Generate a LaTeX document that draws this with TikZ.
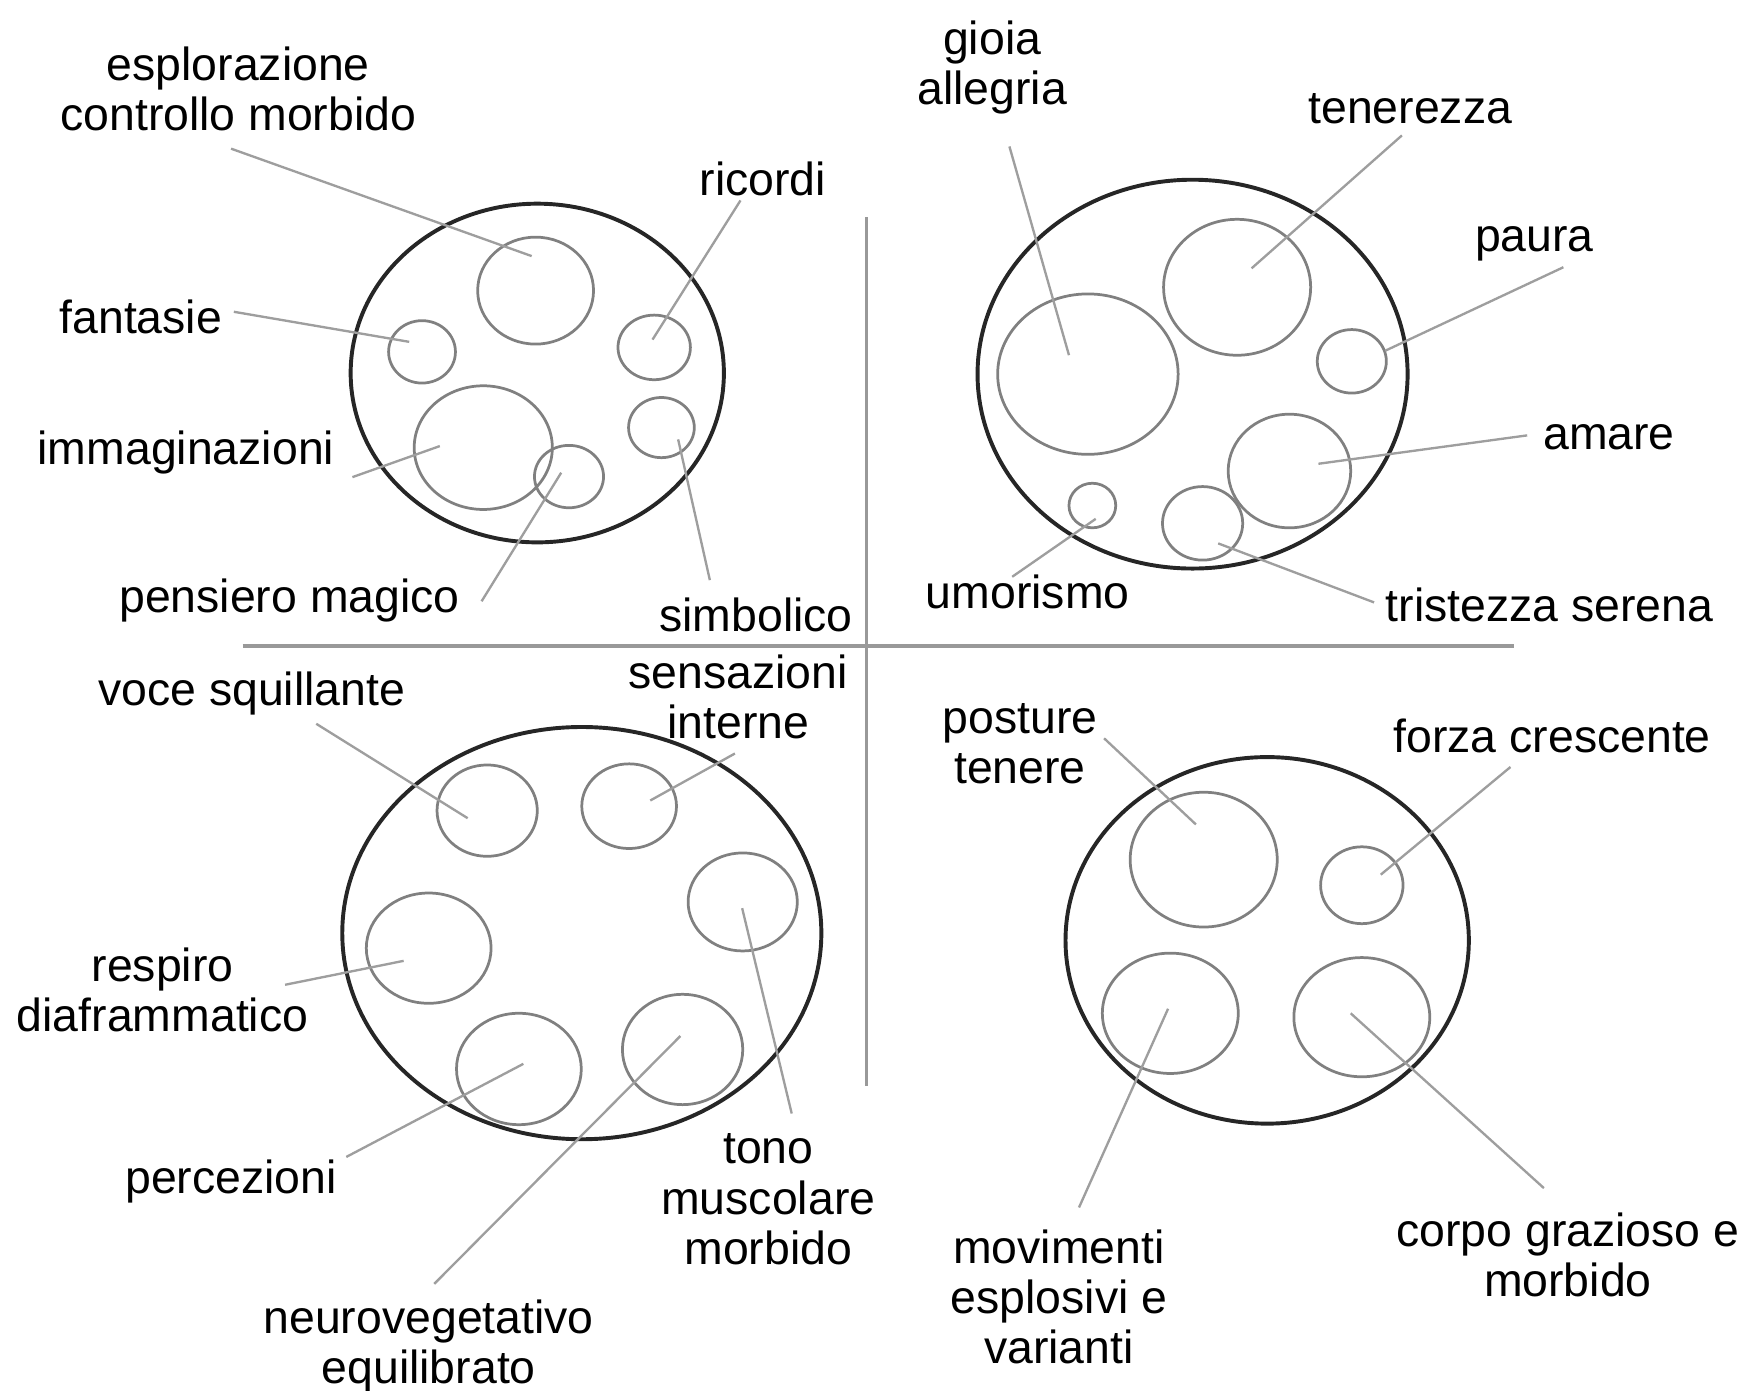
\documentclass[tikz,border=0pt]{standalone}
\usepackage{fontspec}
\setmainfont{Liberation Sans}
\usetikzlibrary{shapes.geometric}
\begin{document}
\begin{tikzpicture}[x=0.01cm,y=-0.01cm,
  outer/.style={ellipse, draw=black!85, line width=1pt, inner sep=0pt},
  inner/.style={ellipse, draw=black!50, line width=0.7pt, inner sep=0pt},
  sz/.style 2 args={minimum width=#1cm, minimum height=#2cm},
  lead/.style={draw=black!38, line width=0.6pt},
  divider/.style={draw=black!40, line width=0.9pt},
  lbl/.style={font=\fontsize{11.85}{12.8}\selectfont, align=center, inner sep=0pt, text=black}]
\useasboundingbox (0,0) rectangle (1568,1249);

% dividers
\coordinate (vt) at (778,195);
\coordinate (vb) at (778,975);
\coordinate (hl) at (218,580);
\coordinate (hr) at (1360,580);
\draw[divider] (vt) -- (vb);
\draw[divider] (hl) -- (hr);

% ---------- top left ----------
\node[outer, sz={3.35}{3.04}] (tl) at (482.5,335) {};
\node[inner, sz={1.04}{0.96}] (cEsp) at (481,261) {};
\node[inner, sz={0.60}{0.56}] (cFan) at (379,316) {};
\node[inner, sz={0.65}{0.58}] (cRic) at (587.5,312) {};
\node[inner, sz={1.24}{1.11}] (cImm) at (434,402) {};
\node[inner, sz={0.62}{0.56}] (cPen) at (511,428) {};
\node[inner, sz={0.59}{0.54}] (cSim) at (594,384) {};

\node[lbl] (tEsp) at (214,80) {esplorazione\\controllo morbido};
\node[lbl] (tRic) at (685,161) {ricordi};
\node[lbl] (tFan) at (126.5,285) {fantasie};
\node[lbl] (tImm) at (167,406) {immaginazioni};
\node[lbl] (tPen) at (260,539) {pensiero magico};
\node[lbl] (tSim) at (679,552) {simbolico};

\coordinate (aEsp) at (207.5,133.5); \coordinate (bEsp) at (477.5,230);
\coordinate (aFan) at (210,280);     \coordinate (bFan) at (367.5,307);
\coordinate (aRic) at (665,180);     \coordinate (bRic) at (586,305);
\coordinate (aImm) at (316.5,428.5); \coordinate (bImm) at (395,400.6);
\coordinate (aPen) at (432.5,540);   \coordinate (bPen) at (504,424.5);
\coordinate (aSim) at (637.5,521);   \coordinate (bSim) at (609,394.6);
\foreach \k in {Esp,Fan,Ric,Imm,Pen,Sim} \draw[lead] (a\k) -- (b\k);

% ---------- top right ----------
\node[outer, sz={3.86}{3.49}] (tr) at (1071,336) {};
\node[inner, sz={1.62}{1.44}] (cGio) at (977,336) {};
\node[inner, sz={1.32}{1.22}] (cTen) at (1111,258) {};
\node[inner, sz={0.62}{0.57}] (cPau) at (1214,324.5) {};
\node[inner, sz={1.10}{1.02}] (cAma) at (1158,423) {};
\node[inner, sz={0.42}{0.40}] (cUmo) at (981,454) {};
\node[inner, sz={0.72}{0.66}] (cTri) at (1080,470) {};

\node[lbl] (tGio) at (891,61) {gioia\\allegria};
\node[lbl] (tTen) at (1266.5,97.7) {tenerezza};
\node[lbl] (tPau) at (1378,219) {paura};
\node[lbl] (tAma) at (1445,392.6) {amare};
\node[lbl] (tUmo) at (923,532) {umorismo};
\node[lbl] (tTri) at (1391.5,543) {tristezza serena};

\coordinate (aGio) at (906.5,131.5); \coordinate (bGio) at (960,319);
\coordinate (aTen) at (1259,121.6);  \coordinate (bTen) at (1124,241);
\coordinate (aPau) at (1404,240);    \coordinate (bPau) at (1244,315);
\coordinate (aAma) at (1371.5,391);  \coordinate (bAma) at (1184,416.5);
\coordinate (aUmo) at (909,518);     \coordinate (bUmo) at (984,466);
\coordinate (aTri) at (1234,541);    \coordinate (bTri) at (1094,488);
\foreach \k in {Gio,Ten,Pau,Ama,Umo,Tri} \draw[lead] (a\k) -- (b\k);

% ---------- bottom left ----------
\node[outer, sz={4.30}{3.70}] (bl) at (522.5,838) {};
\node[inner, sz={0.90}{0.82}] (cVoc) at (437.5,728) {};
\node[inner, sz={0.85}{0.76}] (cSen) at (565,724) {};
\node[inner, sz={0.98}{0.88}] (cTon) at (667,810) {};
\node[inner, sz={1.12}{0.99}] (cRes) at (385,851.5) {};
\node[inner, sz={1.12}{1.00}] (cPer) at (466,960) {};
\node[inner, sz={1.08}{0.99}] (cNeu) at (613,942.5) {};

\node[lbl] (tVoc) at (226,623) {voce squillante};
\node[lbl] (tSen) at (663,626) {sensazioni\\interne};
\node[lbl] (tRes) at (146,889) {respiro\\diaframmatico};
\node[lbl] (tPer) at (207.5,1060.7) {percezioni};
\node[lbl] (tNeu) at (385,1209) {neurovegetativo\\equilibrato};
\node[lbl] (tTon) at (690,1077) {tono\\muscolare\\morbido};

\coordinate (aVoc) at (284,650);     \coordinate (bVoc) at (420,734.8);
\coordinate (aSen) at (660,676.7);   \coordinate (bSen) at (584,718.9);
\coordinate (aTon) at (711,1000);    \coordinate (bTon) at (666.5,815.6);
\coordinate (aRes) at (256,884.4);   \coordinate (bRes) at (362.5,862.9);
\coordinate (aPer) at (311,1039);    \coordinate (bPer) at (470,955.4);
\coordinate (aNeu) at (390,1153);    \coordinate (bNeu) at (611,930.4);
\foreach \k in {Voc,Sen,Ton,Res,Per,Neu} \draw[lead] (a\k) -- (b\k);

% ---------- bottom right ----------
\node[outer, sz={3.62}{3.29}] (br) at (1138,844.5) {};
\node[inner, sz={1.32}{1.21}] (cPos) at (1081,772) {};
\node[inner, sz={0.74}{0.69}] (cFor) at (1223,795) {};
\node[inner, sz={1.22}{1.08}] (cMov) at (1051,910) {};
\node[inner, sz={1.22}{1.07}] (cCor) at (1223,913.5) {};

\node[lbl] (tPos) at (916,668) {posture\\tenere};
\node[lbl] (tFor) at (1394,660.8) {forza crescente};
\node[lbl] (tMov) at (951,1165) {movimenti\\esplosivi e\\varianti};
\node[lbl] (tCor) at (1408,1127) {corpo grazioso e\\morbido};

\coordinate (aPos) at (991.5,663);   \coordinate (bPos) at (1074,740.4);
\coordinate (aFor) at (1356.5,688.8);\coordinate (bFor) at (1240,785.5);
\coordinate (aMov) at (969,1084.4);  \coordinate (bMov) at (1049,905.9);
\coordinate (aCor) at (1386.5,1067); \coordinate (bCor) at (1213,910);
\foreach \k in {Pos,For,Mov,Cor} \draw[lead] (a\k) -- (b\k);
\end{tikzpicture}
\end{document}
